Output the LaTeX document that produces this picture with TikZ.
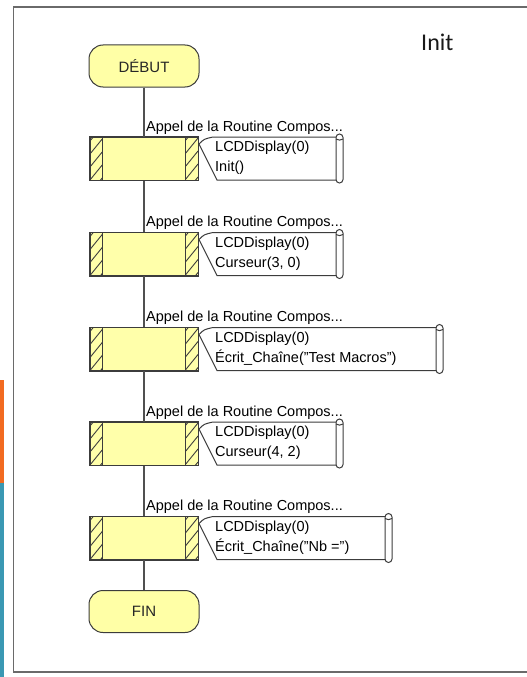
\documentclass[tikz,border=0pt]{standalone}
\usepackage{fontspec}
\setmainfont{Liberation Sans}
\newfontfamily\initfont{Carlito}
\definecolor{blockfill}{HTML}{FFFFAA}
\definecolor{termfill}{HTML}{FFFFA6}
\definecolor{linec}{HTML}{3C3C3C}
\definecolor{framec}{HTML}{6A6A6A}
\definecolor{orangebar}{HTML}{F26B21}
\definecolor{tealbar}{HTML}{3A98B3}
\tikzset{
  terminal/.style={draw=linec, fill=termfill, line width=1pt, rounded corners=14pt,
    minimum width=110pt, minimum height=42pt, inner sep=0pt,
    font=\fontsize{15}{18}\selectfont, text=black!85},
  blockbox/.style={draw=linec, fill=blockfill, line width=1pt,
    minimum width=108pt, minimum height=43pt, inner sep=0pt},
  hatchline/.style={draw=linec, line width=0.9pt},
  lineb/.style={draw=linec, line width=1pt},
  conn/.style={draw=linec!90, line width=1.2pt},
  lbl/.style={font=\fontsize{14.5}{17}\selectfont, inner sep=0pt, text=black},
}
\begin{document}
\begin{tikzpicture}[x=1pt,y=-1pt]
\useasboundingbox (0,0) rectangle (527,677);
% side bars
\fill[orangebar] (0,380) rectangle (4,483);
\fill[tealbar] (0,483) rectangle (4,677);
% frame
\draw[framec, line width=1.4pt] (540,7) -- (13.5,7) -- (13.5,672) -- (540,672);
% title
\node[font=\initfont\fontsize{24}{28}\selectfont, anchor=base west, inner sep=0pt, text=black!90] (title) at (421,51) {Init};
% terminals
\node[terminal] (debut) at (144,66) {DÉBUT};
\node[terminal] (fin) at (144,611.5) {FIN};
% blocks
\foreach \i/\cy/\rx/\txt in {
  1/158.5/336/{Init()},
  2/254/336/{Curseur(3, 0)},
  3/349/436/{Écrit\_Chaîne("Test Macros")},
  4/443.5/336/{Curseur(4, 2)},
  5/538/385/{Écrit\_Chaîne("Nb =")}}{
  \node[blockbox] (b\i) at (144,\cy) {};
  \begin{scope}
    \clip (b\i.north west) rectangle ([xshift=13pt]b\i.south west);
    \foreach \k in {4,17,...,69} \draw[hatchline] (90,\cy-21.5+\k) -- ++(13,-16);
  \end{scope}
  \begin{scope}
    \clip ([xshift=-13pt]b\i.north east) rectangle (b\i.south east);
    \foreach \k in {4,17,...,69} \draw[hatchline] (185,\cy-21.5+\k) -- ++(13,-16);
  \end{scope}
  \draw[lineb] ([xshift=13pt]b\i.north west) -- ([xshift=13pt]b\i.south west);
  \draw[lineb] ([xshift=-13pt]b\i.north east) -- ([xshift=-13pt]b\i.south east);
  \draw[lineb] (b\i.north west) rectangle (b\i.south east);
  % label
  \node[lbl, anchor=base west] (l\i) at (146,\cy-27.5) {Appel de la Routine Compos...};
  % callout
  \draw[lineb] (199,\cy-14.5) .. controls (204,\cy-19.5) .. (213,\cy-21.5) -- (\rx,\cy-21.5);
  \draw[lineb] (199,\cy-14.5) -- (217,\cy+21.5) -- (\rx,\cy+21.5);
  \draw[lineb, fill=white, rounded corners=3.5pt] (\rx,\cy-24.5) rectangle (\rx+7,\cy+24.5);
  \draw[lineb] (\rx,\cy-19.5) .. controls (\rx+2,\cy-18) and (\rx+5,\cy-18) .. (\rx+7,\cy-19.5);
  \node[lbl, anchor=base west] (ta\i) at (215,\cy-7) {LCDDisplay(0)};
  \node[lbl, anchor=base west] (tb\i) at (215,\cy+13) {\txt};
}
% connectors
\draw[conn] (debut) -- (b1);
\draw[conn] (b1) -- (b2);
\draw[conn] (b2) -- (b3);
\draw[conn] (b3) -- (b4);
\draw[conn] (b4) -- (b5);
\draw[conn] (b5) -- (fin);
\end{tikzpicture}
\end{document}
